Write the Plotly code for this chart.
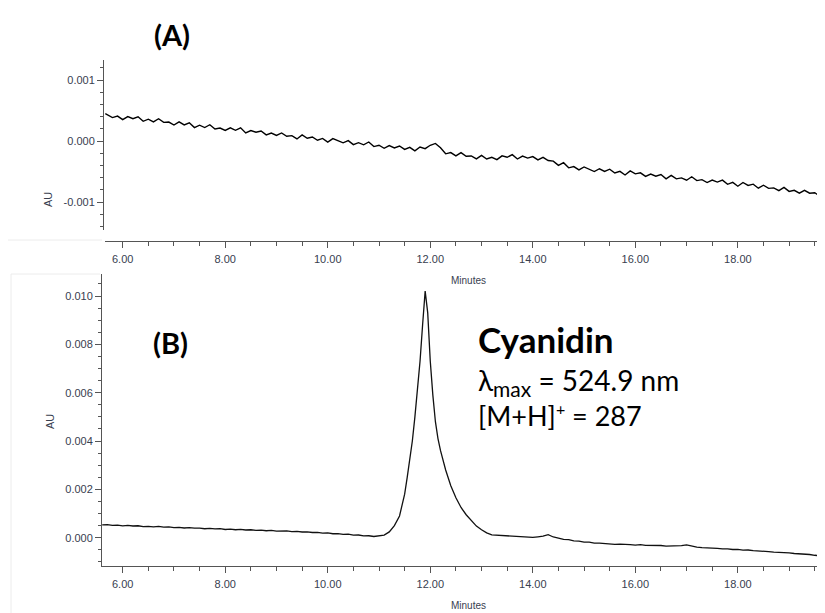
import plotly.graph_objects as go

# ---------------- DATA ----------------
# Panel (A): blank / baseline chromatogram, signal in micro-AU
a_minutes = [5.66, 5.8, 5.9, 6.0, 6.1, 6.2, 6.3, 6.4, 6.5, 6.6,
             6.7, 6.8, 6.9, 7.0, 7.1, 7.2, 7.3, 7.4, 7.5, 7.6,
             7.7, 7.8, 7.9, 8.0, 8.1, 8.2, 8.3, 8.4, 8.5, 8.6,
             8.7, 8.8, 8.9, 9.0, 9.1, 9.2, 9.3, 9.4, 9.5, 9.6,
             9.7, 9.8, 9.9, 10.0, 10.1, 10.2, 10.3, 10.4, 10.5, 10.6,
             10.7, 10.8, 10.9, 11.0, 11.1, 11.2, 11.3, 11.4, 11.5, 11.6,
             11.7, 11.8, 11.9, 12.0, 12.1, 12.2, 12.3, 12.4, 12.5, 12.6,
             12.7, 12.8, 12.9, 13.0, 13.1, 13.2, 13.3, 13.4, 13.5, 13.6,
             13.7, 13.8, 13.9, 14.0, 14.1, 14.2, 14.3, 14.4, 14.5, 14.6,
             14.7, 14.8, 14.9, 15.0, 15.1, 15.2, 15.3, 15.4, 15.5, 15.6,
             15.7, 15.8, 15.9, 16.0, 16.1, 16.2, 16.3, 16.4, 16.5, 16.6,
             16.7, 16.8, 16.9, 17.0, 17.1, 17.2, 17.3, 17.4, 17.5, 17.6,
             17.7, 17.8, 17.9, 18.0, 18.1, 18.2, 18.3, 18.4, 18.5, 18.6,
             18.7, 18.8, 18.9, 19.0, 19.1, 19.2, 19.3, 19.4, 19.5, 19.6,
             19.7]
a_signal_uau = [448, 384, 409, 350, 401, 366, 397, 323, 358, 314,
                365, 306, 311, 262, 313, 263, 299, 220, 260, 221,
                267, 198, 213, 174, 215, 175, 216, 132, 172, 143,
                164, 100, 130, 91, 132, 77, 88, 34, 99, 45,
                66, 12, 42, -17, 39, -1, -30, 6, -59, -28,
                -62, -16, -91, -70, -119, -74, -113, -82, -138, -105,
                -162, -99, -125, -70, -40, -110, -210, -190, -245, -190,
                -250, -245, -293, -236, -295, -267, -305, -243, -267, -223,
                -295, -247, -280, -255, -310, -268, -320, -330, -400, -355,
                -440, -420, -473, -425, -458, -501, -455, -498, -462, -525,
                -498, -557, -490, -538, -522, -580, -543, -577, -550, -620,
                -563, -621, -605, -643, -586, -649, -633, -681, -640, -673,
                -641, -710, -678, -741, -680, -728, -708, -774, -725, -776,
                -768, -814, -760, -826, -808, -854, -810, -856, -848, -904,
                -875]

# Panel (B): cyanidin chromatogram, signal in micro-AU
b_minutes = [5.6, 5.7, 5.8, 5.9, 6.0, 6.1, 6.2, 6.3, 6.4, 6.5,
             6.6, 6.7, 6.8, 6.9, 7.0, 7.1, 7.2, 7.3, 7.4, 7.5,
             7.6, 7.7, 7.8, 7.9, 8.0, 8.1, 8.2, 8.3, 8.4, 8.5,
             8.6, 8.7, 8.8, 8.9, 9.0, 9.1, 9.2, 9.3, 9.4, 9.5,
             9.6, 9.7, 9.8, 9.9, 10.0, 10.1, 10.2, 10.3, 10.4, 10.5,
             10.6, 10.7, 10.8, 10.9, 11.0,
             11.1, 11.2, 11.3, 11.4, 11.45, 11.5, 11.55, 11.6, 11.65, 11.7,
             11.75, 11.8, 11.85, 11.9, 11.95, 12.0, 12.05, 12.1, 12.15, 12.2,
             12.3, 12.4, 12.5, 12.6, 12.7, 12.8, 12.9, 13.0, 13.1, 13.2,
             13.3, 13.4, 13.5, 13.6, 13.7, 13.8, 13.9,
             14.0, 14.1, 14.2, 14.3, 14.4, 14.5, 14.6, 14.7, 14.8, 14.9,
             15.0, 15.1, 15.2, 15.3, 15.4, 15.5, 15.6, 15.7, 15.8, 15.9,
             16.0, 16.1, 16.2, 16.3, 16.4, 16.5, 16.6, 16.7, 16.8, 16.9,
             17.0, 17.1, 17.2, 17.3, 17.4, 17.5, 17.6, 17.7, 17.8, 17.9,
             18.0, 18.1, 18.2, 18.3, 18.4, 18.5, 18.6, 18.7, 18.8, 18.9,
             19.0, 19.1, 19.2, 19.3, 19.4, 19.5, 19.6, 19.7]
b_signal_uau = [535, 540, 510, 522, 491, 513, 485, 495, 461, 473,
                450, 467, 436, 447, 416, 427, 403, 420, 393, 399,
                371, 388, 362, 372, 341, 356, 330, 346, 320, 329,
                300, 312, 289, 304, 275, 286, 287, 252, 261, 236,
                245, 216, 224, 190, 196, 165, 172, 141, 146, 110,
                113, 78, 81, 50, 65,
                110, 240, 500, 900, 1300, 1800, 2500, 3200, 4000, 5000,
                6100, 7300, 8800, 10200, 9300, 7300, 5900, 4800, 4100, 3600,
                2800, 2150, 1650, 1250, 950, 700, 480, 330, 200, 120,
                108, 72, 80, 52, 58, 30, 38,
                12, 36, 64, 125, 30, -12, -70, -82, -130, -140,
                -180, -182, -220, -222, -250, -247, -275, -268, -292, -285,
                -305, -282, -318, -312, -335, -322, -348, -338, -356, -325,
                -295, -355, -385, -412, -414, -438, -440, -462, -458, -488,
                -484, -512, -508, -538, -540, -566, -572, -596, -600, -622,
                -625, -652, -658, -688, -694, -726, -734, -765]

# Axis ticks
x_tick_vals = [6, 8, 10, 12, 14, 16, 18]
x_tick_text = ["6.00", "8.00", "10.00", "12.00", "14.00", "16.00", "18.00"]
a_y_tick_vals = [0.001, 0.0, -0.001]
a_y_tick_text = ["0.001", "0.000", "-0.001"]
b_y_tick_vals = [0.010, 0.008, 0.006, 0.004, 0.002, 0.000]
b_y_tick_text = ["0.010", "0.008", "0.006", "0.004", "0.002", "0.000"]

# Texts
panel_a_label = "(A)"
panel_b_label = "(B)"
compound_name = "Cyanidin"
lambda_text = "λ<sub><span style='font-size:21px'>max</span></sub> = 524.9 nm"
mass_text = "[M+H]<sup><span style='font-size:16px'>+</span></sup> = 287"
x_title = "Minutes"
y_title = "AU"

# ---------------- FIGURE ----------------
# The page body has an 8 px margin, so the figure is 8 px smaller and
# all target pixel positions are measured from the window's corner.
OFF = 8
W, H = 825 - OFF, 613 - OFF
def px_x(p):
    return (p - OFF) / W
def px_y(p):
    return 1 - (p - OFF) / H

a_y = [v * 1e-6 for v in a_signal_uau]
b_y = [v * 1e-6 for v in b_signal_uau]

fig = go.Figure()
fig.add_trace(go.Scatter(x=a_minutes, y=a_y, mode="lines",
                         line=dict(color="#000000", width=1.4),
                         xaxis="x", yaxis="y", hoverinfo="skip"))
fig.add_trace(go.Scatter(x=b_minutes, y=b_y, mode="lines",
                         line=dict(color="#111111", width=1.3),
                         xaxis="x2", yaxis="y2", hoverinfo="skip"))

axis_color = "#555555"
tick_font = dict(family="Liberation Sans, Arial, sans-serif", size=11, color="#38404f")

common_x = dict(
    tickvals=x_tick_vals, ticktext=x_tick_text,
    ticks="outside", ticklen=6, tickwidth=1, tickcolor=axis_color,
    showline=True, linecolor=axis_color, linewidth=1,
    showgrid=False, zeroline=False, tickfont=tick_font,
    minor=dict(ticks="outside", ticklen=4, tickcolor=axis_color,
               tickmode="linear", tick0=0, dtick=0.5, showgrid=False),
    ticklabelstandoff=2,
)
common_y = dict(
    ticks="outside", ticklen=6, tickwidth=1, tickcolor=axis_color,
    showline=True, linecolor=axis_color, linewidth=1,
    showgrid=False, zeroline=False, tickfont=tick_font,
)

fig.update_layout(
    width=W, height=H,
    margin=dict(l=0, r=0, t=0, b=0),
    paper_bgcolor="white", plot_bgcolor="white",
    showlegend=False,
    xaxis=dict(common_x, domain=[px_x(105), 1.0], range=[5.655, 19.70],
               anchor="free", position=px_y(241)),
    yaxis=dict(common_y, domain=[px_y(230), px_y(60)], range=[-0.001459, 0.001328],
               tickvals=a_y_tick_vals, ticktext=a_y_tick_text,
               anchor="free", position=px_x(103),
               minor=dict(ticks="outside", ticklen=3, tickcolor=axis_color,
                          tickmode="linear", tick0=0, dtick=0.0002, showgrid=False)),
    xaxis2=dict(common_x, domain=[px_x(102), 1.0], range=[5.596, 19.70],
                anchor="y2"),
    yaxis2=dict(common_y, domain=[px_y(566), px_y(274)], range=[-0.00117, 0.01091],
                tickvals=b_y_tick_vals, ticktext=b_y_tick_text,
                anchor="x2",
                minor=dict(ticks="outside", ticklen=3, tickcolor=axis_color,
                           tickmode="linear", tick0=0, dtick=0.0005, showgrid=False)),
)

# faint screenshot borders
border = "#ececec"
fig.add_shape(type="line", xref="paper", yref="paper",
              x0=0, x1=px_x(102), y0=px_y(240), y1=px_y(240),
              line=dict(color=border, width=1))
fig.add_shape(type="line", xref="paper", yref="paper",
              x0=px_x(11), x1=px_x(100), y0=px_y(274), y1=px_y(274),
              line=dict(color=border, width=1))
fig.add_shape(type="line", xref="paper", yref="paper",
              x0=px_x(11), x1=px_x(11), y0=0, y1=px_y(274),
              line=dict(color=border, width=1))

label_font = dict(family="Liberation Sans, Arial, sans-serif", size=10, color="#38404f")
annots = [
    dict(text=panel_a_label, x=px_x(172), y=px_y(34),
         font=dict(family="Lato, sans-serif", size=29, color="#000000", weight="bold")),
    dict(text=panel_b_label, x=px_x(170), y=px_y(342),
         font=dict(family="Lato, sans-serif", size=29, color="#000000", weight="bold")),
    dict(text=compound_name, x=px_x(476), y=px_y(339), xanchor="left",
         font=dict(family="Lato, sans-serif", size=35, color="#000000", weight="bold")),
    dict(text=lambda_text, x=px_x(476), y=px_y(382), xanchor="left",
         font=dict(family="Lato, sans-serif", size=28, color="#000000")),
    dict(text=mass_text, x=px_x(476), y=px_y(415), xanchor="left",
         font=dict(family="Lato, sans-serif", size=27, color="#000000")),
    dict(text=x_title, x=px_x(468), y=px_y(281), font=label_font),
    dict(text=x_title, x=px_x(468), y=px_y(605), font=label_font),
    dict(text=y_title, x=px_x(48), y=px_y(200), textangle=-90, font=dict(label_font, size=11)),
    dict(text=y_title, x=px_x(50), y=px_y(422), textangle=-90, font=dict(label_font, size=11)),
]
for a in annots:
    a.setdefault("xanchor", "center")
    fig.add_annotation(xref="paper", yref="paper", showarrow=False,
                       yanchor="middle", **a)

fig.write_html("out.html", config={"displayModeBar": False})
